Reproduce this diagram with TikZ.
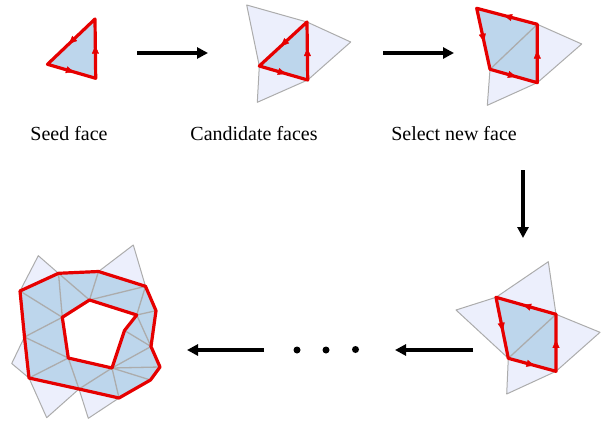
\documentclass[tikz,border=0pt]{standalone}
\usepackage{fontspec}
\setmainfont{Liberation Serif}
\usetikzlibrary{arrows.meta,decorations.markings}
\definecolor{faceblue}{RGB}{189,214,236}
\definecolor{facelight}{RGB}{236,239,252}
\definecolor{meshgray}{RGB}{172,172,172}
\definecolor{bred}{RGB}{230,0,0}
\tikzset{
  cand/.style={fill=facelight, draw=meshgray, line width=1pt, line join=round},
  selface/.style={fill=faceblue},
  inedge/.style={draw=meshgray, line width=1.3pt},
  border/.style={draw=bred, line width=3.2pt, line join=round},
  redarrow/.style={postaction={decorate}, decoration={markings, mark=at position 0.55 with {\arrow[bred]{Triangle[length=8pt,width=7pt]}}}},
  flow/.style={line width=3.2pt, -{Triangle[length=11pt,width=11pt]}},
  dotmark/.style={circle, fill=black, inner sep=0pt, minimum size=7pt},
  lab/.style={font=\fontsize{20}{24}\selectfont, anchor=base, inner sep=0pt}
}
\begin{document}
\begin{tikzpicture}[x=1pt,y=-1pt]
\useasboundingbox (0,0) rectangle (601,423);

% ---------- Panel 1: seed face ----------
\coordinate (s1) at (95,19);
\coordinate (s2) at (47.5,64.3);
\coordinate (s3) at (95.7,78.3);
\fill[selface] (s1)--(s2)--(s3)--cycle;
\draw[border] (s1)--(s2)--(s3)--cycle;
\path[redarrow] (s1)--(s2);
\path[redarrow] (s2)--(s3);
\path[redarrow] (s3)--(s1);
\node[lab] (l1) at (69,140.5) {Seed face};

% ---------- Panel 2: candidate faces ----------
\coordinate (c1) at (307,22);
\coordinate (c2) at (259.3,66);
\coordinate (c3) at (307.7,80);
\coordinate (ca) at (246.7,5);
\coordinate (cb) at (350.7,42);
\coordinate (cc) at (257.3,102.3);
\filldraw[cand] (ca)--(c1)--(c2)--cycle;
\filldraw[cand] (c1)--(cb)--(c3)--cycle;
\filldraw[cand] (c2)--(c3)--(cc)--cycle;
\fill[selface] (c1)--(c2)--(c3)--cycle;
\draw[border] (c1)--(c2)--(c3)--cycle;
\path[redarrow] (c1)--(c2);
\path[redarrow] (c2)--(c3);
\path[redarrow] (c3)--(c1);
\node[lab] (l2) at (254,140.5) {Candidate faces};

% ---------- Panel 3: select new face ----------
\coordinate (n1) at (476.7,8.3);
\coordinate (n2) at (537.3,24.3);
\coordinate (n3) at (537.3,82.7);
\coordinate (n4) at (490,69.3);
\coordinate (na) at (581.7,44);
\coordinate (nb) at (487.3,105.3);
\filldraw[cand] (n2)--(na)--(n3)--cycle;
\filldraw[cand] (n4)--(n3)--(nb)--cycle;
\fill[selface] (n1)--(n2)--(n3)--(n4)--cycle;
\draw[inedge] (n4)--(n2);
\draw[border] (n1)--(n2)--(n3)--(n4)--cycle;
\path[redarrow] (n2)--(n1);
\path[redarrow] (n1)--(n4);
\path[redarrow] (n4)--(n3);
\path[redarrow] (n3)--(n2);
\node[lab] (l3) at (454,140.5) {Select new face};

% ---------- Panel 4: new candidates ----------
\coordinate (p1) at (496,297.3);
\coordinate (p2) at (556,314.3);
\coordinate (p3) at (556,371.3);
\coordinate (p4) at (508.3,358.3);
\coordinate (pa) at (456,310);
\coordinate (pb) at (548.3,261.7);
\coordinate (pc) at (600,332.3);
\coordinate (pd) at (506.7,394);
\filldraw[cand] (pa)--(p1)--(p4)--cycle;
\filldraw[cand] (p1)--(pb)--(p2)--cycle;
\filldraw[cand] (p2)--(pc)--(p3)--cycle;
\filldraw[cand] (p4)--(p3)--(pd)--cycle;
\fill[selface] (p1)--(p2)--(p3)--(p4)--cycle;
\draw[inedge] (p4)--(p2);
\draw[border] (p1)--(p2)--(p3)--(p4)--cycle;
\path[redarrow] (p2)--(p1);
\path[redarrow] (p1)--(p4);
\path[redarrow] (p4)--(p3);
\path[redarrow] (p3)--(p2);

% ---------- Panel 5: final mesh ----------
\coordinate (O1) at (20,291);
\coordinate (O2) at (58.5,273.3);
\coordinate (O3) at (98.5,271.5);
\coordinate (O4) at (145.5,286.3);
\coordinate (O5) at (156,310.7);
\coordinate (O6) at (151,346.5);
\coordinate (O7) at (160,367);
\coordinate (O8) at (150.5,380);
\coordinate (O9) at (119,398);
\coordinate (B) at (79,389);
\coordinate (O10) at (29,378);
\coordinate (L) at (24.5,337);
\coordinate (I1) at (89.5,300);
\coordinate (I2) at (136.7,315);
\coordinate (I3) at (124.5,330.5);
\coordinate (I4) at (112,368);
\coordinate (I5) at (68.3,358);
\coordinate (I6) at (62.3,317.3);
\coordinate (ta) at (38.3,255.7);
\coordinate (tb) at (133.3,245);
\coordinate (tc) at (11.7,363.5);
\coordinate (td) at (46.7,417.7);
\coordinate (te) at (88.3,418.3);
\filldraw[cand] (ta)--(O1)--(O2)--cycle;
\filldraw[cand] (O3)--(tb)--(O4)--cycle;
\filldraw[cand] (L)--(tc)--(O10)--cycle;
\filldraw[cand] (O10)--(td)--(B)--cycle;
\filldraw[cand] (B)--(te)--(O9)--cycle;
\fill[selface, even odd rule]
  (O1)--(O2)--(O3)--(O4)--(O5)--(O6)--(O7)--(O8)--(O9)--(B)--(O10)--(L)--cycle
  (I1)--(I2)--(I3)--(I4)--(I5)--(I6)--cycle;
\draw[inedge] (O2)--(I6) (O2)--(I1) (O3)--(I1) (O4)--(I1) (O4)--(I2)
  (O5)--(I2) (O6)--(I2) (O6)--(I3) (O6)--(I4) (O7)--(I4) (O8)--(I4)
  (O9)--(I4) (B)--(I4) (B)--(I5) (O10)--(I5) (L)--(I5) (L)--(I6) (O1)--(I6);
\draw[border] (O1)--(O2)--(O3)--(O4)--(O5)--(O6)--(O7)--(O8)--(O9)--(B)--(O10)--(L)--cycle;
\draw[border] (I1)--(I2)--(I3)--(I4)--(I5)--(I6)--cycle;

% ---------- flow arrows ----------
\coordinate (f1a) at (137,53);
\coordinate (f1b) at (208,53);
\coordinate (f2a) at (383,53);
\coordinate (f2b) at (454,53);
\coordinate (f3a) at (523,170);
\coordinate (f3b) at (523,238);
\coordinate (f4a) at (473,350);
\coordinate (f4b) at (395,350);
\coordinate (f5a) at (264,350);
\coordinate (f5b) at (187,350);
\draw[flow] (f1a)--(f1b);
\draw[flow] (f2a)--(f2b);
\draw[flow] (f3a)--(f3b);
\draw[flow] (f4a)--(f4b);
\draw[flow] (f5a)--(f5b);
\node[dotmark] (d1) at (297,350) {};
\node[dotmark] (d2) at (326,350) {};
\node[dotmark] (d3) at (355.5,349.5) {};
\end{tikzpicture}
\end{document}
